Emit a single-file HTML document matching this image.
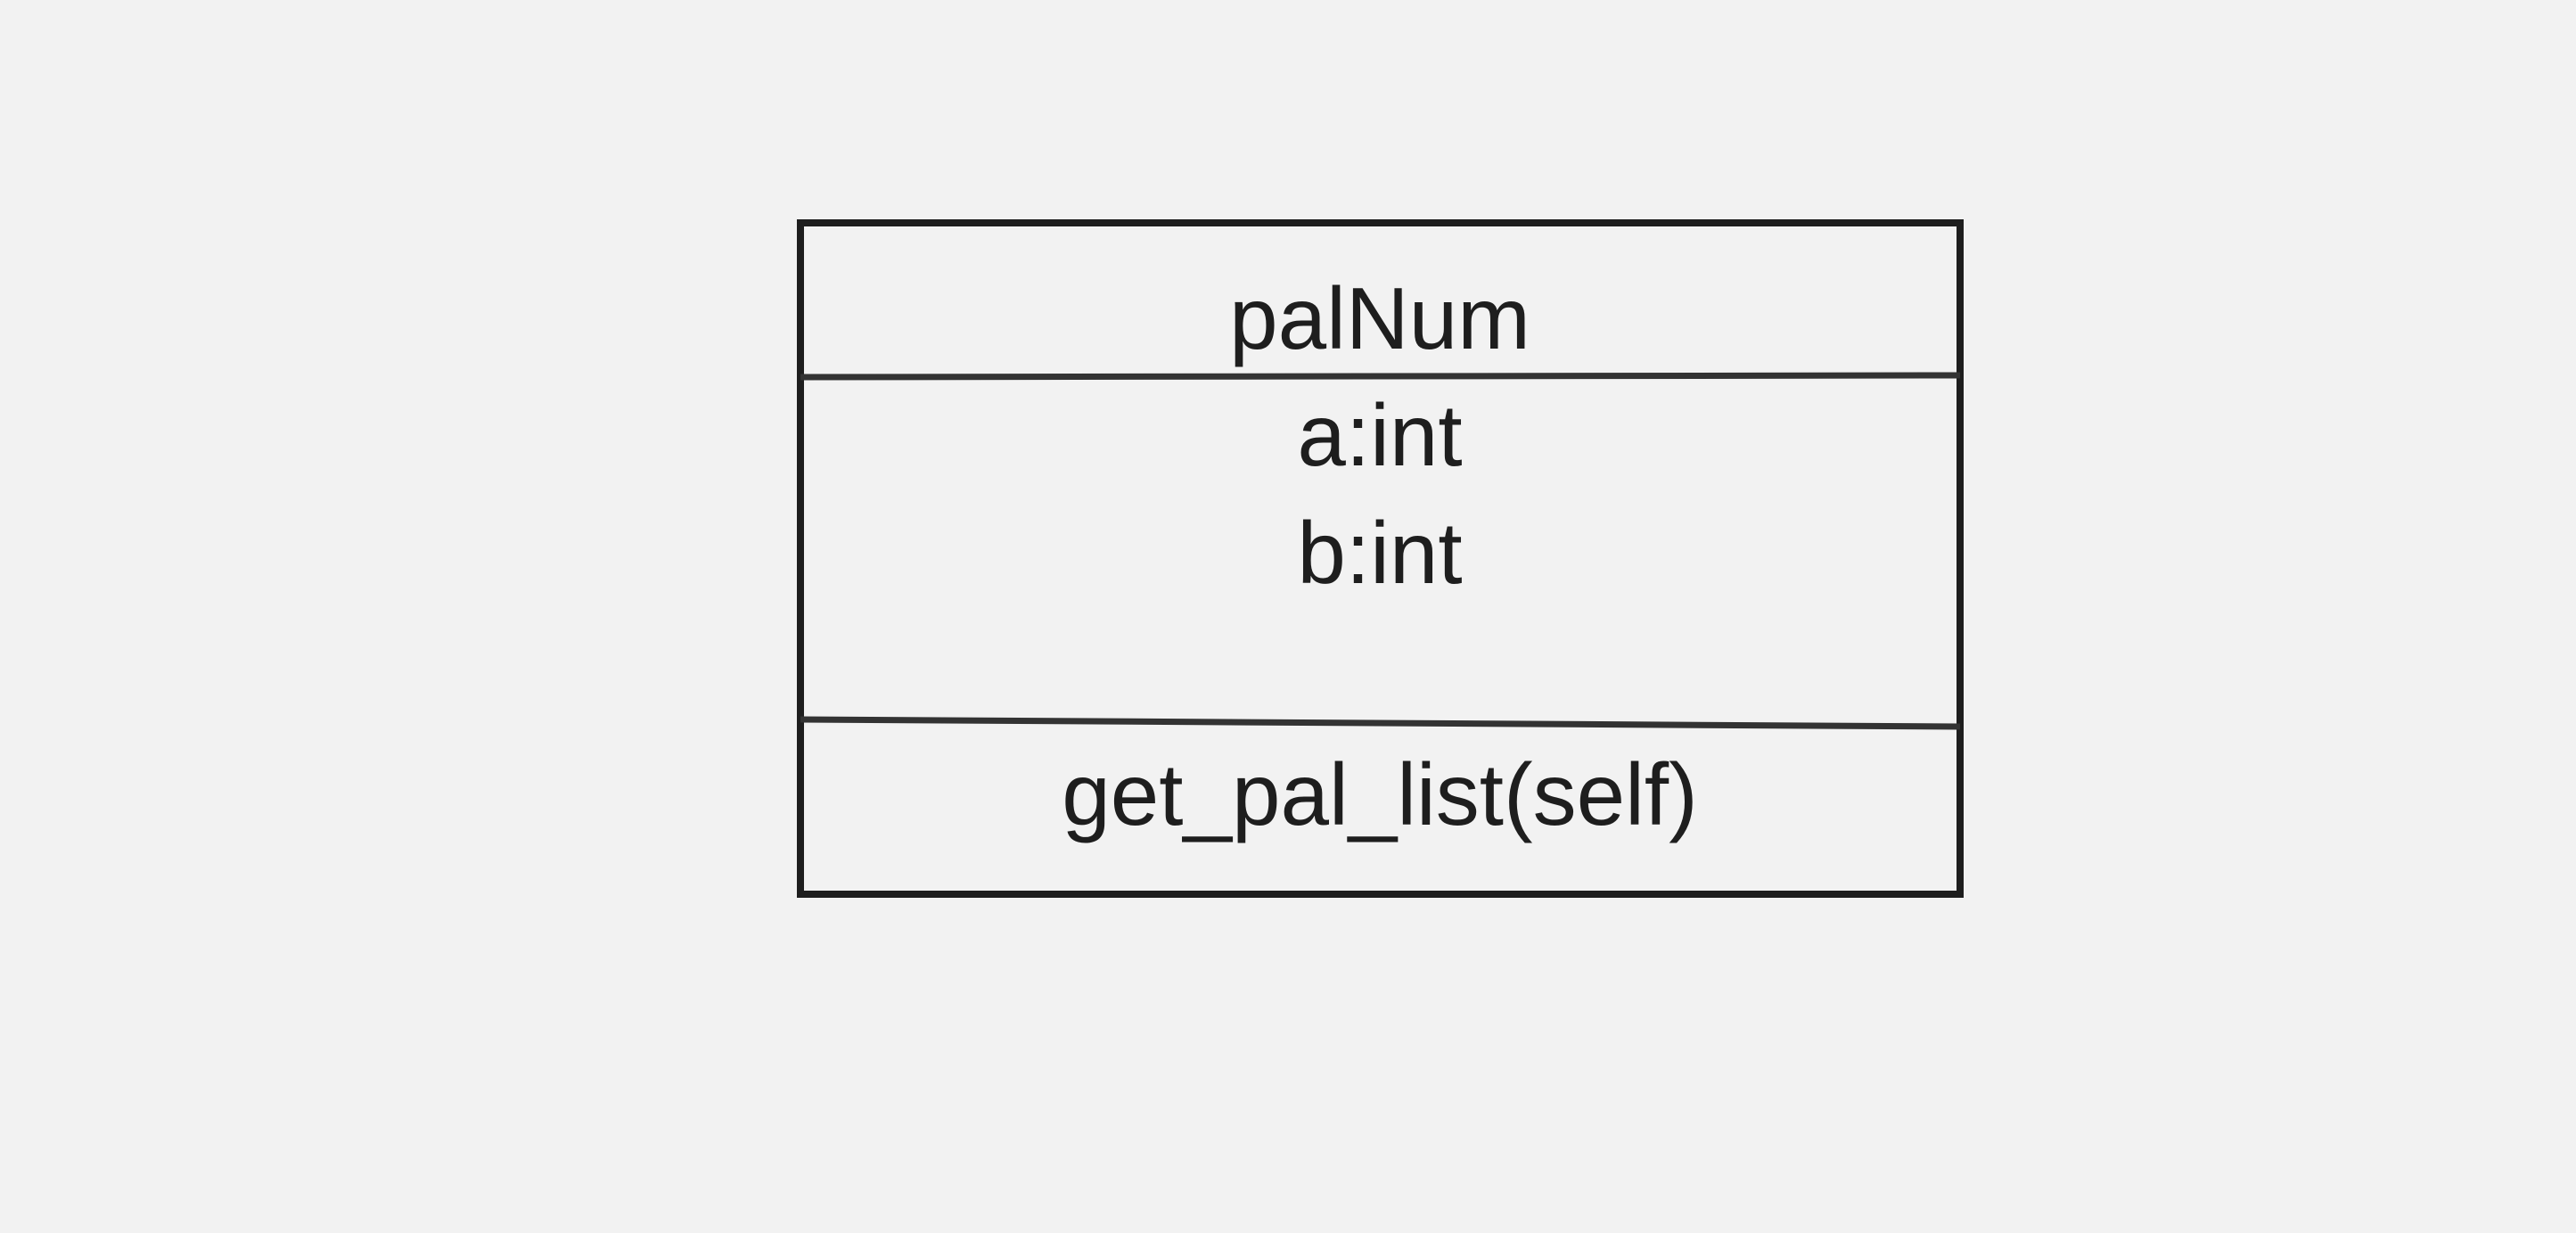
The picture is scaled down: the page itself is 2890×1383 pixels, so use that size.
<!DOCTYPE html>
<html><head><meta charset="utf-8"><style>
html,body{margin:0;padding:0;background:#f2f2f2;width:2890px;height:1383px;overflow:hidden}
svg{display:block}
text{font-family:"Liberation Sans","DejaVu Sans",sans-serif;fill:#1e1e1e;font-size:98px}
</style></head><body>
<svg width="2890" height="1383" viewBox="0 0 2890 1383">
<rect x="0" y="0" width="2890" height="1383" fill="#f2f2f2"/>
<rect x="898" y="250" width="1301" height="753" fill="none" stroke="#1e1e1e" stroke-width="8"/>
<line x1="898" y1="423" x2="2199" y2="421" stroke="#333" stroke-width="7"/>
<line x1="898" y1="807" x2="2199" y2="815" stroke="#333" stroke-width="7"/>
<text x="1548" y="391" text-anchor="middle">palNum</text>
<text x="1548" y="522" text-anchor="middle">a:int</text>
<text x="1548" y="654" text-anchor="middle">b:int</text>
<text x="1548" y="925" text-anchor="middle">get_pal_list(self)</text>
</svg>
</body></html>
